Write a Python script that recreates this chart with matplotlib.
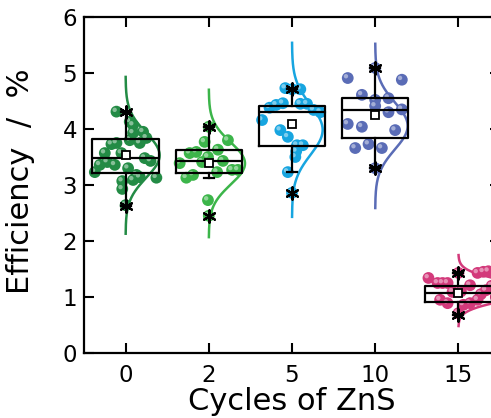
import numpy as np
import matplotlib
matplotlib.use("Agg")
import matplotlib.pyplot as plt
from matplotlib import transforms

# categories
cycles = ["0", "2", "5", "10", "15"]
colors = ["#238b45", "#3cb54a", "#17a5e0", "#5a6cb6", "#d33a7b"]

eff0 = [4.31, 4.13, 4.07, 3.95, 3.93, 3.84, 3.80, 3.75, 3.73, 3.75, 3.57, 3.57, 3.48,
        3.43, 3.41, 3.36, 3.36, 3.30, 3.23, 3.18, 3.13, 3.14, 3.09, 3.07, 2.93, 2.64]
jit0 = [-0.11, 0.05, 0.09, 0.21, 0.09, 0.25, 0.05, -0.11, -0.17, 0.17, -0.25, -0.05, 0.23,
        0.30, -0.22, -0.31, -0.13, 0.03, -0.37, 0.13, 0.37, 0.17, 0.09, -0.04, -0.04, 0.0]
eff2 = [4.04, 3.80, 3.77, 3.63, 3.59, 3.57, 3.50, 3.43, 3.41, 3.39, 3.27, 3.27, 3.23,
        3.18, 3.13, 2.73, 2.45]
jit2 = [0.0, 0.23, -0.05, 0.11, -0.15, -0.23, -0.01, 0.17, -0.08, -0.35, 0.28, 0.35, 0.10,
        -0.19, -0.27, -0.01, 0.0]
eff5 = [4.71, 4.73, 4.71, 4.38, 4.43, 4.46, 4.45, 4.45, 4.34, 4.30, 4.16, 3.98, 3.86,
        3.71, 3.71, 3.60, 3.50, 3.23, 2.86]
jit5 = [0.0, -0.08, 0.10, -0.27, -0.19, -0.11, 0.10, 0.18, 0.26, 0.34, -0.36, -0.14, -0.05,
        0.06, 0.13, 0.05, 0.04, -0.05, 0.0]
eff10 = [5.09, 4.91, 4.88, 4.61, 4.52, 4.55, 4.41, 4.30, 4.35, 4.09, 4.04, 3.98, 3.73,
         3.66, 3.66, 3.30]
jit10 = [0.0, -0.33, 0.32, -0.16, 0.0, 0.16, 0.0, 0.16, 0.32, -0.33, -0.16, 0.24, -0.08,
         -0.24, 0.08, 0.0]
eff15 = [1.43, 1.34, 1.25, 1.25, 1.25, 1.09, 1.21, 1.43, 1.45, 1.46, 1.10, 0.95, 0.89,
         0.86, 0.89, 0.95, 1.05, 1.12, 1.20, 0.71, 1.00]
jit15 = [0.0, -0.36, -0.25, -0.19, -0.13, -0.07, 0.14, 0.23, 0.30, 0.36, 0.03, -0.22, -0.13,
         0.06, 0.14, 0.23, 0.27, 0.33, 0.40, 0.0, 0.45]

# box statistics
q1 = [3.21, 3.21, 3.70, 3.84, 0.91]
med = [3.48, 3.43, 4.30, 4.34, 1.07]
q3 = [3.82, 3.63, 4.41, 4.55, 1.20]
mean = [3.54, 3.39, 4.09, 4.25, 1.07]
whislo = [2.62, 3.125, 3.23, 3.30, 0.68]
whishi = [4.30, 4.04, 4.71, 5.09, 1.43]
vmin = [2.62, 2.45, 2.86, 3.30, 0.68]
vmax = [4.30, 4.04, 4.71, 5.09, 1.43]

# normal curve fit
fit_mean = [3.53, 3.385, 3.985, 4.055, 1.115]
fit_sd = [0.40, 0.376, 0.444, 0.419, 0.181]

effs = [eff0, eff2, eff5, eff10, eff15]
jits = [jit0, jit2, jit5, jit10, jit15]

fig = plt.figure(figsize=(4.91, 4.18), dpi=100)
ax = fig.add_axes([84 / 491, 65 / 418, 416 / 491, 336 / 418])

hl = transforms.offset_copy(ax.transData, fig=fig, x=-1.8, y=1.8, units="dots")

for i in range(5):
    # normal curve on the right side of each box
    y = np.linspace(fit_mean[i] - 3.5 * fit_sd[i], fit_mean[i] + 3.5 * fit_sd[i], 200)
    pdf = np.exp(-0.5 * ((y - fit_mean[i]) / fit_sd[i]) ** 2) / (fit_sd[i] * np.sqrt(2 * np.pi))
    ax.plot(i + 0.41 * pdf, y, color=colors[i], lw=1.8, zorder=2)
    # data points with a small highlight
    xs = i + np.array(jits[i])
    ax.scatter(xs, effs[i], s=72, color=colors[i], edgecolors="none", zorder=3)
    ax.scatter(xs, effs[i], s=10, color="white", alpha=0.45, edgecolors="none",
               transform=hl, zorder=3.1)

stats = []
for i in range(5):
    stats.append(dict(med=med[i], q1=q1[i], q3=q3[i], whislo=whislo[i],
                      whishi=whishi[i], mean=mean[i], fliers=[]))

ax.bxp(stats, positions=range(5), widths=0.8, showmeans=True, capwidths=0.12,
       boxprops=dict(color="black", lw=1.6),
       medianprops=dict(color="black", lw=1.6),
       whiskerprops=dict(color="black", lw=1.6),
       capprops=dict(color="black", lw=1.6),
       meanprops=dict(marker="s", markerfacecolor="white", markeredgecolor="black",
                      markersize=6, markeredgewidth=1.3),
       zorder=4)

# min / max markers
ax.scatter(range(5), vmin, marker=(6, 2, 0), s=80, color="black", lw=1.6, zorder=5)
ax.scatter(range(5), vmax, marker=(6, 2, 0), s=80, color="black", lw=1.6, zorder=5)

ax.set_xlim(-0.5, 4.5)
ax.set_ylim(0, 6)
ax.set_xticks(range(5))
ax.set_xticklabels(cycles)
ax.set_yticks(range(7))
for s in ax.spines.values():
    s.set_linewidth(1.6)
ax.tick_params(direction="in", length=7, width=1.5, labelsize=16.5,
               top=True, right=True)
ax.tick_params(axis="x", pad=8)
ax.tick_params(axis="y", pad=5)

ax.set_xlabel("Cycles of ZnS", fontsize=22, labelpad=0)
ax.set_ylabel("Efficiency  /  %", fontsize=22)
ax.yaxis.set_label_coords(-0.118, 0.51)

fig.savefig("out.png", dpi=100)
